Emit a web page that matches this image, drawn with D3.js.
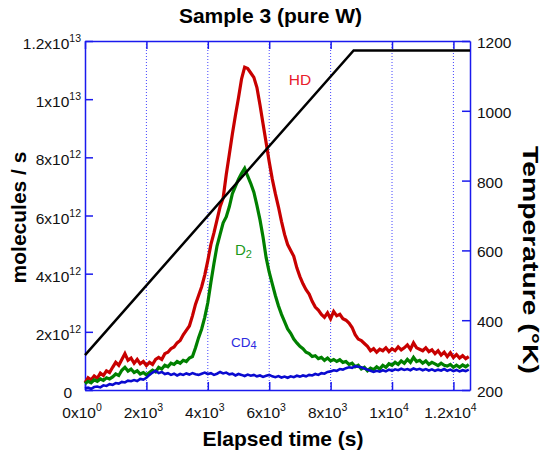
<!DOCTYPE html>
<html><head><meta charset="utf-8">
<script src="https://cdn.jsdelivr.net/npm/d3@7"></script>
<style>body{margin:0;background:#fff}svg{display:block}text{font-family:"Liberation Sans",Arial,Helvetica,sans-serif}</style>
</head><body><svg id="c" width="545" height="452"></svg>
<script>
// ---- data ----
const times = [0,100,200,300,400,500,600,700,800,900,1000,1100,1200,1300,1400,1500,1600,1700,1800,1900,2000,2100,2200,2300,2400,2500,2600,2700,2800,2900,3000,3100,3200,3300,3400,3500,3600,3700,3800,3900,4000,4100,4200,4300,4400,4500,4600,4700,4800,4900,5000,5100,5200,5300,5400,5500,5600,5700,5800,5900,6000,6100,6200,6300,6400,6500,6600,6700,6800,6900,7000,7100,7200,7300,7400,7500,7600,7700,7800,7900,8000,8100,8200,8300,8400,8500,8600,8700,8800,8900,9000,9100,9200,9300,9400,9500,9600,9700,9800,9900,10000,10100,10200,10300,10400,10500,10600,10700,10800,10900,11000,11100,11200,11300,11400,11500,11600,11700,11800,11900,12000,12100,12200,12300,12400,12500];
// values in units of 1e12 molecules/s
const hdValues = [0.25,0.42,0.35,0.48,0.40,0.58,0.50,0.66,0.60,0.78,0.95,0.85,1.05,1.25,1.02,1.10,0.92,1.05,0.90,0.98,0.84,0.95,0.88,1.05,1.12,1.05,1.25,1.30,1.42,1.48,1.62,1.70,1.90,2.05,2.20,2.55,2.95,3.25,3.55,3.95,4.45,5.00,5.40,5.85,6.30,6.60,7.40,8.10,8.80,9.45,10.05,10.70,11.10,11.05,10.90,10.75,10.40,9.80,9.15,8.50,7.85,7.25,6.75,6.30,5.80,5.35,5.00,4.80,4.60,4.20,3.90,3.65,3.45,3.30,3.05,2.85,2.75,2.60,2.50,2.65,2.45,2.70,2.55,2.60,2.45,2.40,2.30,2.15,1.90,1.75,1.70,1.60,1.50,1.35,1.42,1.30,1.40,1.35,1.45,1.32,1.42,1.35,1.48,1.38,1.45,1.55,1.40,1.62,1.45,1.40,1.35,1.45,1.32,1.38,1.25,1.35,1.20,1.30,1.15,1.28,1.12,1.22,1.10,1.18,1.08,1.15];
const d2Values = [0.22,0.30,0.25,0.35,0.30,0.38,0.33,0.42,0.38,0.45,0.55,0.50,0.68,0.78,0.65,0.72,0.60,0.66,0.55,0.60,0.52,0.60,0.68,0.62,0.78,0.72,0.85,0.80,0.92,0.88,0.98,0.92,1.02,0.98,1.10,1.15,1.45,1.80,2.10,2.50,3.00,3.70,4.35,4.95,5.35,5.75,5.95,6.30,6.75,7.00,7.25,7.45,7.62,7.35,7.10,6.80,6.35,5.85,5.25,4.55,4.05,3.65,3.25,2.90,2.60,2.35,2.10,1.95,1.75,1.62,1.50,1.42,1.30,1.25,1.15,1.18,1.08,1.12,1.02,1.10,1.00,1.05,0.98,1.04,0.95,0.98,0.88,0.92,0.80,0.85,0.72,0.78,0.66,0.75,0.70,0.80,0.72,0.85,0.78,0.90,0.85,0.95,0.88,1.00,0.92,1.05,0.95,1.12,0.98,1.02,0.92,1.00,0.88,0.95,0.90,0.84,0.92,0.85,0.82,0.88,0.78,0.85,0.78,0.86,0.80,0.88];
const cd4Values = [0.05,0.08,0.04,0.10,0.12,0.09,0.16,0.14,0.20,0.18,0.24,0.22,0.28,0.26,0.32,0.30,0.34,0.31,0.38,0.36,0.42,0.52,0.60,0.66,0.58,0.62,0.55,0.58,0.52,0.56,0.50,0.55,0.52,0.57,0.53,0.58,0.54,0.52,0.56,0.60,0.55,0.58,0.52,0.56,0.62,0.57,0.60,0.54,0.56,0.50,0.55,0.52,0.48,0.53,0.49,0.52,0.47,0.50,0.45,0.49,0.52,0.47,0.44,0.48,0.43,0.46,0.42,0.47,0.44,0.49,0.46,0.50,0.47,0.52,0.50,0.55,0.52,0.58,0.56,0.62,0.64,0.68,0.66,0.72,0.70,0.75,0.78,0.76,0.82,0.80,0.78,0.74,0.70,0.66,0.62,0.66,0.63,0.68,0.64,0.70,0.66,0.71,0.68,0.73,0.69,0.72,0.68,0.74,0.70,0.73,0.68,0.72,0.67,0.71,0.66,0.70,0.67,0.72,0.66,0.70,0.65,0.69,0.64,0.68,0.65,0.70];
const tempTimes = [0, 8750, 12540];
const tempValues = [300, 1173, 1173];

const xTicks = [0,2000,4000,6000,8000,10000,12000];
const xTickMant = ["0","2","4","6","8","1","1.2"];
const xTickExp = ["0","3","3","3","3","4","4"];
const yTicks = [0,2,4,6,8,10,12];            // x1e12
const yTickMant = ["0","2","4","6","8","1","1.2"];
const yTickExp = ["","12","12","12","12","13","13"];
const tTicks = [200,400,600,800,1000,1200];

const title = "Sample 3 (pure W)";
const xTitle = "Elapsed time (s)";
const yTitle = "molecules / s";
const y2Title = "Temperature (\u00B0K)";

// ---- layout ----
const svg = d3.select("#c");
const L=85, R=470, T=41, B=390;
const x = d3.scaleLinear().domain([0,12540]).range([L,R]);
const y = d3.scaleLinear().domain([0,12]).range([B,T]);
const y2 = d3.scaleLinear().domain([200,1200]).range([B,T]);
const axisCol = "#1a1aee";

// gridlines (dotted)
svg.append("g").selectAll("line").data(xTicks.slice(1)).join("line")
  .attr("x1",d=>x(d)).attr("x2",d=>x(d)).attr("y1",T).attr("y2",B)
  .attr("stroke","#4444ff").attr("stroke-width",1).attr("stroke-dasharray","1,2");

// axes via d3
const axOpts = g => g.call(s=>s.select(".domain").attr("stroke",axisCol).attr("stroke-width",1.5))
  .call(s=>s.selectAll(".tick line").attr("stroke",axisCol).attr("stroke-width",1.5))
  .call(s=>s.selectAll(".tick text").remove());
svg.append("g").attr("transform",`translate(0,${B})`)
  .call(d3.axisTop(x).tickValues(xTicks).tickSize(8).tickSizeOuter(0)).call(axOpts);
svg.append("g").attr("transform",`translate(0,${T})`)
  .call(d3.axisBottom(x).tickValues(xTicks).tickSize(8).tickSizeOuter(0)).call(axOpts);
svg.append("g").attr("transform",`translate(${L},0)`)
  .call(d3.axisRight(y).tickValues(yTicks).tickSize(8).tickSizeOuter(0)).call(axOpts);
svg.append("g").attr("transform",`translate(${R},0)`)
  .call(d3.axisLeft(y2).tickValues(tTicks).tickSize(8).tickSizeOuter(0)).call(axOpts);

// series
const mk = (vals) => d3.line().x((d,i)=>x(times[i])).y(d=>y(d))(vals);
svg.append("path").attr("d",mk(hdValues)).attr("fill","none").attr("stroke","#c80000").attr("stroke-width",3.2);
svg.append("path").attr("d",mk(d2Values)).attr("fill","none").attr("stroke","#008000").attr("stroke-width",3.2);
svg.append("path").attr("d",mk(cd4Values)).attr("fill","none").attr("stroke","#0a0ad0").attr("stroke-width",2.6);
svg.append("path").attr("d",d3.line().x((d,i)=>x(tempTimes[i])).y(d=>y2(d))(tempValues))
  .attr("fill","none").attr("stroke","#000").attr("stroke-width",2.5);

// tick labels
const fs = 15.5, sfs = 10.5;
const xl = svg.append("g").attr("font-size",fs).attr("fill","#111");
xTicks.forEach((v,i)=>{
  const t = xl.append("text").attr("x",x(v)-3).attr("y",418).attr("text-anchor","middle");
  t.append("tspan").text(xTickMant[i]+"x10");
  t.append("tspan").attr("font-size",sfs).attr("dy",-7).text(xTickExp[i]);
});
yTicks.forEach((v,i)=>{
  if(!yTickExp[i]){
    xl.append("text").attr("x",72).attr("y",y(v)+8).attr("text-anchor","end").text(yTickMant[i]);
    return;
  }
  const t = xl.append("text").attr("x",81).attr("y",y(v)+8).attr("text-anchor","end");
  t.append("tspan").text(yTickMant[i]+"x10");
  t.append("tspan").attr("font-size",sfs).attr("dy",-7).text(yTickExp[i]);
});
tTicks.forEach(v=>{
  xl.append("text").attr("x",477).attr("y",y2(v)+7).attr("text-anchor","start").text(v);
});

// titles
svg.append("text").attr("x",270.5).attr("y",23).attr("text-anchor","middle")
  .attr("font-size",21).attr("font-weight","bold").text(title);
svg.append("text").attr("x",283).attr("y",446).attr("text-anchor","middle")
  .attr("font-size",21).attr("font-weight","bold").text(xTitle);
svg.append("text").attr("transform","translate(26,217.5) rotate(-90)").attr("text-anchor","middle")
  .attr("font-size",21).attr("font-weight","bold").text(yTitle);
svg.append("text").attr("transform","translate(523,260) rotate(90)").attr("text-anchor","middle")
  .attr("font-size",22).attr("font-weight","bold")
  .attr("textLength",228).attr("lengthAdjust","spacingAndGlyphs").text(y2Title);

// series labels
svg.append("text").attr("x",300).attr("y",85).attr("text-anchor","middle").attr("font-size",15.5).attr("fill","#e8202a").text("HD");
const d2t = svg.append("text").attr("x",235).attr("y",255).attr("font-size",15).attr("fill","#1a9a1a");
d2t.append("tspan").text("D");
d2t.append("tspan").attr("font-size",11).attr("dy",3).text("2");
const c4t = svg.append("text").attr("x",231).attr("y",347).attr("font-size",13.5).attr("fill","#2b2be0");
c4t.append("tspan").text("CD");
c4t.append("tspan").attr("font-size",11).attr("dy",2).text("4");
</script></body></html>
